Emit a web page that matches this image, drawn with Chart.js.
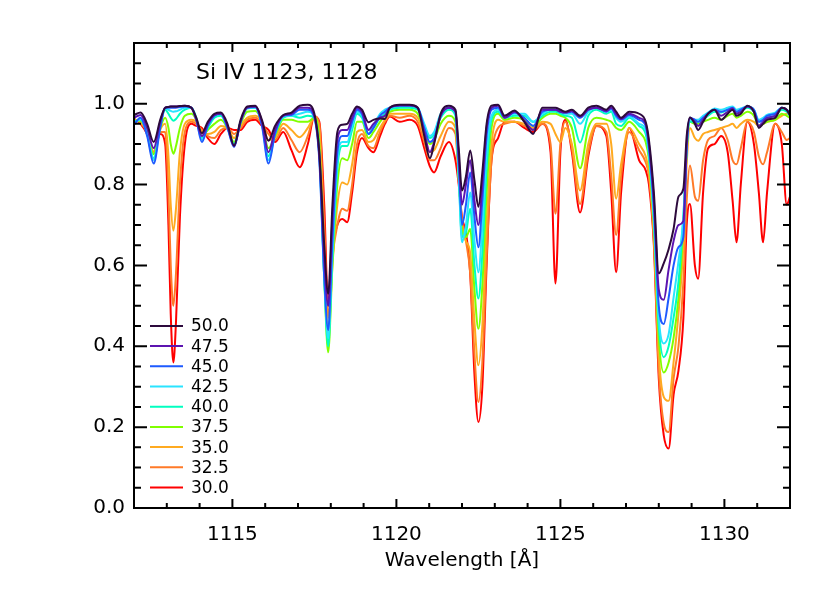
<!DOCTYPE html>
<html>
<head>
<meta charset="utf-8">
<title>Si IV 1123, 1128</title>
<script src="https://cdn.jsdelivr.net/npm/chart.js@4.4.1/dist/chart.umd.min.js"></script>
<style>
  html, body { margin: 0; padding: 0; background: #fff; }
  canvas { display: block; }
</style>
</head>
<body>
<canvas id="spectrum" width="830" height="593"></canvas>
<script>
const plotTitle = 'Si IV 1123, 1128';
const xTicks = [1115, 1120, 1125, 1130];
const yTicks = [0, 0.2, 0.4, 0.6, 0.8, 1.0];
const seriesLabels = ['50.0', '47.5', '45.0', '42.5', '40.0', '37.5', '35.0', '32.5', '30.0'];
const seriesColors = ['#2d0a3c', '#5c14b0', '#1e5aff', '#2ae4ff', '#00ffc0', '#80ff00', '#ffaa20', '#ff7a28', '#ff0000'];

// wavelength grid [A]
const wavelength = [
  1112.0, 1112.2, 1112.4, 1112.6, 1112.8, 1112.95, 1113.05, 1113.12, 1113.2, 1113.28,
  1113.4, 1113.55, 1113.75, 1113.9, 1114.07, 1114.25, 1114.45, 1114.65, 1114.85, 1115.05,
  1115.25, 1115.45, 1115.7, 1115.9, 1116.1, 1116.3, 1116.55, 1116.8, 1117.05, 1117.3,
  1117.5, 1117.65, 1117.8, 1117.92, 1118.05, 1118.2, 1118.35, 1118.5, 1118.65, 1118.8,
  1118.95, 1119.15, 1119.3, 1119.5, 1119.65, 1119.8, 1120.1, 1120.4, 1120.65, 1120.85,
  1121.02, 1121.15, 1121.35, 1121.6, 1121.8, 1121.9, 1122.0, 1122.12, 1122.25, 1122.38,
  1122.5, 1122.62, 1122.75, 1122.9, 1123.1, 1123.3, 1123.6, 1123.9, 1124.17, 1124.45,
  1124.7, 1124.85, 1125.0, 1125.15, 1125.35, 1125.6, 1125.85, 1126.1, 1126.4, 1126.55,
  1126.7, 1126.85, 1127.1, 1127.4, 1127.6, 1127.7, 1127.85, 1128.0, 1128.15, 1128.3,
  1128.45, 1128.6, 1128.75, 1128.85, 1128.95, 1129.1, 1129.2, 1129.35, 1129.5, 1129.7,
  1129.9, 1130.1, 1130.25, 1130.37, 1130.5, 1130.7, 1130.9, 1131.05, 1131.18, 1131.3,
  1131.55, 1131.75, 1131.9, 1132.0
];

const flux50 = [
  .972,.978,.95,.905,.96,.99,.992,.993,.993,.993,
  .994,.995,.99,.965,.927,.955,.975,.978,.95,.896,
  .96,.993,.995,.96,.908,.945,.972,.978,.995,.997,
  .975,.88,.65,.53,.75,.93,.948,.95,.975,.993,
  .985,.954,.96,.963,.962,.99,.997,.997,.99,.92,
  .865,.90,.975,.995,.985,.89,.785,.82,.884,.81,
  .745,.83,.95,.995,.997,.97,.983,.955,.925,.99,
  .99,.99,.985,.98,.985,.97,.99,.995,.985,.995,
  .98,.965,.98,.975,.955,.91,.78,.58,.605,.64,
  .69,.77,.79,.92,.966,.95,.935,.955,.975,.985,
  .96,.975,.985,.97,.975,.995,.98,.94,.95,.96,
  .965,.99,.985,.97
];
const flux475 = [
  .965,.972,.94,.89,.955,.99,.992,.993,.993,.993,
  .994,.995,.99,.96,.92,.95,.972,.975,.945,.895,
  .955,.99,.993,.955,.88,.935,.97,.975,.99,.99,
  .97,.87,.62,.50,.72,.91,.935,.935,.965,.99,
  .98,.935,.95,.965,.97,.99,.996,.996,.99,.93,
  .88,.905,.97,.99,.98,.87,.75,.80,.86,.76,
  .70,.80,.94,.99,.995,.965,.98,.958,.935,.985,
  .985,.985,.98,.978,.982,.968,.985,.99,.982,.99,
  .975,.962,.975,.965,.95,.90,.76,.54,.515,.59,
  .66,.70,.71,.90,.965,.955,.945,.96,.975,.985,
  .97,.98,.988,.975,.98,.993,.98,.945,.955,.965,
  .97,.99,.985,.975
];
const flux45 = [
  .948,.965,.92,.852,.94,.99,.99,.99,.99,.99,
  .992,.993,.99,.96,.905,.945,.97,.975,.94,.893,
  .955,.99,.992,.945,.852,.925,.97,.972,.985,.985,
  .965,.86,.57,.44,.66,.88,.92,.92,.955,.985,
  .975,.925,.94,.97,.98,.99,.995,.995,.99,.94,
  .905,.915,.97,.99,.98,.85,.70,.75,.83,.72,
  .645,.76,.92,.985,.99,.965,.978,.965,.945,.98,
  .985,.985,.98,.978,.98,.965,.985,.99,.98,.988,
  .97,.96,.972,.96,.945,.89,.74,.50,.455,.52,
  .60,.645,.67,.89,.965,.96,.955,.965,.975,.985,
  .98,.985,.99,.98,.985,.993,.985,.955,.96,.97,
  .975,.99,.985,.975
];
const flux425 = [
  .95,.962,.925,.86,.945,.988,.985,.982,.98,.981,
  .985,.99,.99,.96,.91,.945,.97,.975,.94,.895,
  .955,.99,.99,.95,.86,.925,.968,.97,.975,.98,
  .965,.87,.57,.42,.64,.86,.905,.905,.945,.98,
  .97,.925,.945,.975,.985,.99,.995,.995,.99,.95,
  .92,.93,.975,.99,.975,.82,.657,.70,.78,.66,
  .583,.70,.88,.97,.985,.97,.975,.975,.955,.975,
  .985,.985,.98,.975,.975,.95,.98,.99,.98,.985,
  .965,.955,.968,.95,.935,.88,.72,.47,.407,.43,
  .52,.61,.72,.89,.96,.96,.96,.97,.978,.988,
  .985,.99,.993,.985,.988,.993,.985,.96,.965,.972,
  .978,.99,.985,.975
];
const flux40 = [
  .955,.96,.925,.865,.945,.985,.975,.965,.958,.962,
  .975,.985,.99,.965,.915,.94,.965,.97,.94,.90,
  .955,.988,.99,.95,.87,.925,.965,.97,.965,.97,
  .965,.88,.57,.40,.62,.84,.895,.895,.935,.975,
  .965,.925,.94,.965,.975,.985,.99,.99,.985,.945,
  .915,.925,.965,.985,.97,.82,.67,.68,.74,.60,
  .518,.63,.84,.96,.98,.965,.97,.97,.955,.97,
  .98,.98,.975,.97,.965,.904,.97,.985,.975,.98,
  .95,.945,.965,.945,.925,.87,.71,.45,.373,.40,
  .47,.56,.72,.89,.955,.955,.955,.96,.97,.98,
  .978,.985,.988,.98,.982,.99,.98,.955,.96,.965,
  .97,.985,.98,.97
];
const flux375 = [
  .958,.958,.93,.875,.94,.965,.94,.90,.876,.895,
  .94,.97,.975,.96,.92,.935,.95,.96,.94,.905,
  .95,.98,.982,.955,.89,.92,.96,.96,.955,.955,
  .965,.90,.57,.385,.60,.80,.865,.86,.90,.955,
  .955,.915,.93,.955,.97,.98,.985,.985,.975,.935,
  .90,.91,.95,.97,.955,.82,.69,.67,.69,.54,
  .443,.55,.78,.94,.975,.96,.965,.96,.945,.965,
  .975,.975,.97,.965,.94,.84,.94,.965,.96,.955,
  .94,.935,.955,.93,.905,.86,.70,.42,.335,.36,
  .42,.52,.70,.88,.955,.95,.95,.955,.96,.965,
  .96,.97,.975,.965,.97,.98,.97,.945,.95,.955,
  .96,.975,.97,.965
];
const flux35 = [
  .96,.955,.93,.878,.935,.95,.87,.75,.686,.74,
  .88,.95,.96,.955,.93,.925,.93,.945,.94,.915,
  .945,.965,.97,.955,.91,.915,.95,.935,.917,.94,
  .965,.93,.62,.43,.60,.75,.805,.80,.85,.93,
  .935,.905,.91,.94,.96,.975,.975,.975,.965,.92,
  .88,.885,.92,.955,.94,.82,.70,.66,.63,.46,
  .353,.45,.70,.90,.96,.955,.955,.95,.94,.955,
  .95,.925,.905,.94,.90,.785,.90,.95,.95,.90,
  .765,.85,.94,.90,.87,.83,.68,.38,.275,.265,
  .36,.48,.65,.85,.94,.915,.908,.925,.93,.935,
  .94,.945,.95,.94,.95,.96,.955,.945,.95,.955,
  .96,.97,.975,.975
];
const flux325 = [
  .962,.952,.93,.88,.93,.93,.78,.60,.50,.58,
  .80,.93,.955,.95,.935,.92,.915,.935,.94,.925,
  .94,.96,.965,.95,.925,.91,.94,.91,.88,.92,
  .968,.95,.70,.47,.62,.70,.74,.735,.80,.90,
  .925,.895,.89,.93,.955,.97,.965,.97,.955,.905,
  .86,.86,.89,.94,.925,.81,.71,.66,.58,.38,
  .262,.36,.62,.86,.94,.95,.955,.945,.935,.95,
  .90,.728,.90,.955,.89,.752,.88,.945,.93,.82,
  .675,.82,.93,.885,.855,.82,.66,.34,.21,.188,
  .32,.40,.56,.76,.847,.77,.76,.86,.91,.92,
  .94,.91,.86,.85,.89,.955,.93,.87,.85,.88,
  .95,.93,.91,.915
];
const flux30 = [
  .963,.95,.925,.88,.925,.90,.70,.48,.36,.46,
  .72,.90,.95,.945,.94,.915,.90,.925,.94,.935,
  .935,.955,.96,.945,.935,.905,.93,.885,.843,.90,
  .968,.955,.75,.50,.64,.70,.715,.707,.78,.88,
  .915,.89,.88,.92,.95,.968,.955,.96,.945,.89,
  .845,.83,.87,.905,.86,.80,.72,.68,.58,.33,
  .2125,.30,.60,.86,.915,.955,.955,.94,.93,.95,
  .88,.555,.88,.96,.88,.731,.87,.945,.92,.78,
  .583,.78,.94,.86,.835,.80,.65,.32,.18,.147,
  .28,.34,.47,.70,.752,.60,.567,.78,.889,.90,
  .92,.88,.76,.657,.80,.955,.90,.78,.657,.78,
  .95,.90,.75,.77
];

const fluxes = [flux50, flux475, flux45, flux425, flux40, flux375, flux35, flux325, flux30];

// IDL-style frame: box, inward ticks on all four sides, title and legend inside the plot
const idlFrame = {
  id: 'idlFrame',
  afterDatasetsDraw(chart) {
    const ctx = chart.ctx;
    const {left, right, top, bottom} = chart.chartArea;
    const xs = chart.scales.x;
    const ys = chart.scales.y;
    ctx.save();
    ctx.strokeStyle = '#000';
    ctx.lineWidth = 2;
    ctx.beginPath();
    for (let v = xs.min; v <= xs.max; v++) {
      const px = xs.getPixelForValue(v);
      const len = v % 5 === 0 ? 9 : 5;
      ctx.moveTo(px, bottom); ctx.lineTo(px, bottom - len);
      ctx.moveTo(px, top); ctx.lineTo(px, top + len);
    }
    for (let i = 0; i * 0.05 <= ys.max + 1e-9; i++) {
      const py = ys.getPixelForValue(i * 0.05);
      const len = i % 4 === 0 ? 13 : 7;
      ctx.moveTo(left, py); ctx.lineTo(left + len, py);
      ctx.moveTo(right, py); ctx.lineTo(right - len, py);
    }
    ctx.stroke();
    ctx.strokeRect(left, top, right - left, bottom - top);

    ctx.fillStyle = '#000';
    ctx.font = '22px "DejaVu Sans"';
    ctx.textBaseline = 'middle';
    ctx.textAlign = 'left';
    ctx.fillText(plotTitle, left + 62, top + 30);

    ctx.font = '17px "DejaVu Sans"';
    const n = chart.data.datasets.length;
    chart.data.datasets.forEach((ds, i) => {
      const y = bottom - 20.5 - (n - 1 - i) * 20.2;
      ctx.strokeStyle = ds.borderColor;
      ctx.beginPath();
      ctx.moveTo(left + 16, y);
      ctx.lineTo(left + 49, y);
      ctx.stroke();
      ctx.fillText(ds.label, left + 57, y + 1);
    });
    ctx.restore();
  }
};

const tickFont = { family: 'DejaVu Sans', size: 20 };

new Chart(document.getElementById('spectrum'), {
  type: 'line',
  data: {
    datasets: seriesLabels.map((label, i) => ({
      label: label,
      data: wavelength.map((w, j) => ({ x: w, y: fluxes[i][j] })),
      borderColor: seriesColors[i],
      borderWidth: 2,
      pointRadius: 0,
      cubicInterpolationMode: 'monotone',
      fill: false
    }))
  },
  options: {
    responsive: false,
    animation: false,
    devicePixelRatio: 1,
    layout: { padding: { top: 43, right: 40, left: 0, bottom: 0 } },
    plugins: {
      legend: { display: false },
      tooltip: { enabled: false },
      title: { display: false }
    },
    scales: {
      x: {
        type: 'linear',
        min: 1112,
        max: 1132,
        grid: { display: false, drawTicks: false },
        border: { display: false },
        afterBuildTicks: s => { s.ticks = xTicks.map(v => ({ value: v })); },
        afterFit: s => { s.height = 85; },
        ticks: {
          color: '#000',
          font: tickFont,
          padding: 15,
          maxRotation: 0,
          callback: v => String(v)
        },
        title: {
          display: true,
          text: 'Wavelength [Å]',
          color: '#000',
          font: tickFont,
          padding: { top: 0, bottom: 20 }
        }
      },
      y: {
        type: 'linear',
        min: 0,
        max: 1.15,
        grid: { display: false, drawTicks: false },
        border: { display: false },
        afterBuildTicks: s => { s.ticks = yTicks.map(v => ({ value: v })); },
        afterFit: s => { s.width = 134; },
        ticks: {
          color: '#000',
          font: tickFont,
          padding: 9,
          callback: v => v.toFixed(1)
        }
      }
    }
  },
  plugins: [idlFrame]
});
</script>
</body>
</html>
